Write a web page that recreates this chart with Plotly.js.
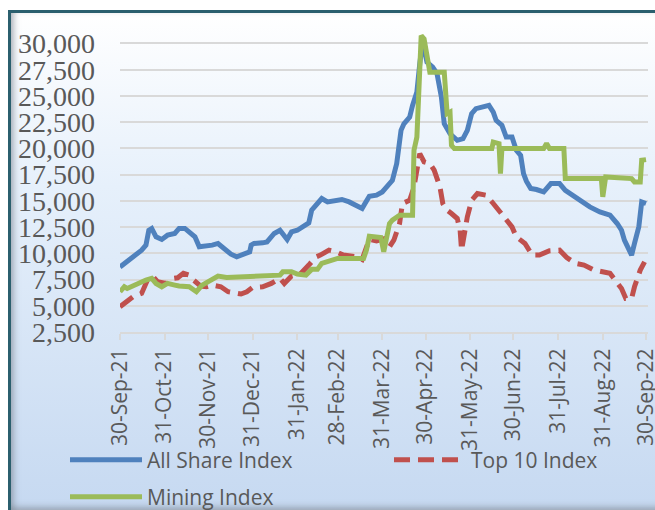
<!DOCTYPE html>
<html>
<head>
<meta charset="utf-8">
<script src="https://cdn.plot.ly/plotly-3.0.1.min.js"></script>
<style>
  html, body { margin: 0; padding: 0; background: #ffffff; }
  #frame {
    position: absolute; left: 8px; top: 10px; width: 650px; height: 497px;
    border-left: 3px solid #2b5f6e; border-top: 3px solid #2b5f6e;
    background: linear-gradient(to bottom, #ffffff 0%, #e6f0fb 35%, #c6d9f1 100%);
    box-shadow: inset 6px 0 6px -3px rgba(120,130,140,0.55), inset 0 -6px 6px -3px rgba(120,130,140,0.55), inset -4px 0 4px -2px rgba(255,255,255,0.9);
  }
  #chart { position: absolute; left: 0; top: 0; width: 655px; height: 510px; overflow: hidden; }
</style>
</head>
<body>
<div id="frame"></div>
<div id="chart"></div>
<script>
// All Share Index
const allShareDates = ['2021-09-30','2021-10-05','2021-10-09','2021-10-15','2021-10-18','2021-10-20','2021-10-22','2021-10-25','2021-10-29','2021-11-02','2021-11-07','2021-11-10','2021-11-14','2021-11-17','2021-11-21','2021-11-24','2021-11-29','2021-12-03','2021-12-07','2021-12-11','2021-12-16','2021-12-20','2021-12-25','2021-12-29','2021-12-30','2022-01-01','2022-01-07','2022-01-10','2022-01-15','2022-01-19','2022-01-24','2022-01-27','2022-01-31','2022-02-05','2022-02-08','2022-02-10','2022-02-14','2022-02-17','2022-02-21','2022-02-26','2022-03-03','2022-03-08','2022-03-13','2022-03-17','2022-03-19','2022-03-22','2022-03-27','2022-03-31','2022-04-02','2022-04-07','2022-04-10','2022-04-13','2022-04-15','2022-04-19','2022-04-21','2022-04-24','2022-04-26','2022-04-28','2022-05-01','2022-05-05','2022-05-08','2022-05-11','2022-05-13','2022-05-17','2022-05-22','2022-05-26','2022-05-29','2022-06-01','2022-06-04','2022-06-08','2022-06-13','2022-06-16','2022-06-18','2022-06-22','2022-06-25','2022-06-29','2022-07-02','2022-07-05','2022-07-07','2022-07-09','2022-07-12','2022-07-16','2022-07-21','2022-07-26','2022-08-01','2022-08-05','2022-08-10','2022-08-16','2022-08-22','2022-08-29','2022-09-05','2022-09-10','2022-09-13','2022-09-15','2022-09-18','2022-09-20','2022-09-22','2022-09-25','2022-09-27','2022-09-30'];
const allShareValues = [8700,9190,9660,10300,10780,12200,12370,11570,11320,11730,11890,12370,12370,12040,11570,10620,10680,10780,10940,10460,9920,9660,9990,10140,10780,10940,11000,11090,11890,12200,11320,12040,12200,12590,12900,14110,14750,15220,14900,15060,15130,14900,14590,14270,14750,15440,15540,15850,16170,16960,18550,21720,22350,22990,24100,25370,28070,30200,28230,27750,27120,24900,22350,21400,20770,20930,21720,23310,23790,23940,24100,23460,22670,22200,21080,21080,19820,19340,17600,16880,16170,16080,15850,16650,16650,16010,15540,14900,14420,13950,13630,12840,12200,11250,10300,9830,10940,12520,14900,14750];

// Top 10 Index
const top10Dates = ['2021-09-30','2021-10-03','2021-10-09','2021-10-15','2021-10-19','2021-10-23','2021-10-26','2021-11-01','2021-11-06','2021-11-09','2021-11-13','2021-11-17','2021-11-20','2021-11-25','2021-11-29','2021-12-03','2021-12-09','2021-12-14','2021-12-17','2021-12-23','2021-12-27','2021-12-31','2022-01-07','2022-01-13','2022-01-19','2022-01-22','2022-01-27','2022-02-02','2022-02-08','2022-02-13','2022-02-16','2022-02-22','2022-02-27','2022-03-04','2022-03-13','2022-03-17','2022-03-22','2022-03-27','2022-04-02','2022-04-05','2022-04-08','2022-04-12','2022-04-14','2022-04-19','2022-04-22','2022-04-24','2022-04-26','2022-04-29','2022-05-03','2022-05-06','2022-05-10','2022-05-12','2022-05-15','2022-05-18','2022-05-22','2022-05-24','2022-05-25','2022-05-29','2022-06-01','2022-06-05','2022-06-11','2022-06-16','2022-06-21','2022-06-25','2022-06-29','2022-07-02','2022-07-08','2022-07-13','2022-07-18','2022-07-25','2022-08-01','2022-08-06','2022-08-12','2022-08-18','2022-08-25','2022-09-05','2022-09-08','2022-09-13','2022-09-16','2022-09-20','2022-09-22','2022-09-26','2022-09-29'];
const top10Values = [4910,5230,5860,6180,7450,7770,7290,7130,7610,7670,8090,7920,7450,6880,6810,6970,6810,6340,6240,6120,6340,6750,6810,7130,7610,7130,7830,8020,8880,9660,9830,10300,10140,9830,9660,9410,11320,11190,11410,10620,11250,12840,14750,15060,16330,17920,19500,18710,18550,17920,16330,14750,14110,13790,13320,12200,10300,13470,15060,15700,15540,14750,13950,13160,12520,11570,10940,9830,9830,10240,10300,9600,9040,8880,8400,8090,7610,6650,5700,5700,6810,8400,9190];

// Mining Index
const miningDates = ['2021-09-30','2021-10-03','2021-10-05','2021-10-12','2021-10-18','2021-10-22','2021-10-25','2021-10-29','2021-11-02','2021-11-07','2021-11-10','2021-11-17','2021-11-22','2021-11-26','2021-12-02','2021-12-07','2021-12-13','2021-12-22','2022-01-01','2022-01-10','2022-01-19','2022-01-21','2022-01-27','2022-01-31','2022-02-06','2022-02-10','2022-02-14','2022-02-17','2022-02-22','2022-02-28','2022-03-18','2022-03-20','2022-03-22','2022-03-27','2022-03-30','2022-04-01','2022-04-03','2022-04-05','2022-04-07','2022-04-12','2022-04-21','2022-04-22','2022-04-24','2022-04-27','2022-04-29','2022-05-01','2022-05-03','2022-05-13','2022-05-15','2022-05-17','2022-05-18','2022-05-20','2022-06-15','2022-06-16','2022-06-20','2022-06-21','2022-06-22','2022-07-21','2022-07-23','2022-07-25','2022-08-04','2022-08-05','2022-08-30','2022-08-31','2022-09-02','2022-09-20','2022-09-22','2022-09-26','2022-09-27','2022-09-30'];
const miningValues = [6340,6810,6650,7130,7450,7610,7130,6810,7130,6970,6880,6810,6340,6970,7450,7830,7700,7770,7830,7830,7920,8240,8240,8020,7920,8470,8470,9040,9290,9510,9510,10300,11630,11510,11510,10140,11570,12840,13160,13630,13630,19820,21080,30760,30440,28700,27270,27270,23310,23460,20300,19980,19980,20610,20460,17600,19980,19980,20460,19980,19980,17120,17120,15380,17280,17120,16800,16800,18870,18930];

// Axis ticks
const xTickDates = ['2021-09-30','2021-10-31','2021-11-30','2021-12-31','2022-01-31','2022-02-28','2022-03-31','2022-04-30','2022-05-31','2022-06-30','2022-07-31','2022-08-31','2022-09-30'];
const xTickLabels = ['30-Sep-21','31-Oct-21','30-Nov-21','31-Dec-21','31-Jan-22','28-Feb-22','31-Mar-22','30-Apr-22','31-May-22','30-Jun-22','31-Jul-22','31-Aug-22','30-Sep-22'];
const yTickVals = [2500,5000,7500,10000,12500,15000,17500,20000,22500,25000,27500,30000];
const yTickLabels = ['2,500','5,000','7,500','10,000','12,500','15,000','17,500','20,000','22,500','25,000','27,500','30,000'];

const textColor = '#595959';
const legFont = {family: 'Open Sans, Liberation Sans, sans-serif', size: 21, color: textColor};

const traces = [
  {x: allShareDates, y: allShareValues, name: 'All Share Index', type: 'scatter', mode: 'lines',
   line: {color: '#4f81bd', width: 5}, legend: 'legend'},
  {x: top10Dates, y: top10Values, name: 'Top 10 Index', type: 'scatter', mode: 'lines',
   line: {color: '#c0504d', width: 5, dash: '16px,8px'}, legend: 'legend2'},
  {x: miningDates, y: miningValues, name: 'Mining Index', type: 'scatter', mode: 'lines',
   line: {color: '#9bbb59', width: 5}, legend: 'legend3'}
];

const legBase = {orientation: 'v', bgcolor: 'rgba(0,0,0,0)', font: legFont, itemwidth: 72,
  xref: 'container', yref: 'container', xanchor: 'left', yanchor: 'middle', itemclick: false};

const layout = {
  width: 655, height: 510,
  margin: {l: 120, r: 7, t: 33, b: 178, autoexpand: false},
  paper_bgcolor: 'rgba(0,0,0,0)',
  plot_bgcolor: 'rgba(0,0,0,0)',
  xaxis: {
    type: 'date',
    range: ['2021-09-30', '2022-10-01 09:00'],
    tickmode: 'array', tickvals: xTickDates, ticktext: xTickLabels,
    tickangle: -90,
    tickfont: {family: 'Open Sans, Liberation Sans, sans-serif', size: 21, color: textColor},
    ticklabeloverflow: 'allow',
    showgrid: false, zeroline: false,
    showline: true, linecolor: '#d9d9d9', linewidth: 2,
    ticks: 'outside', ticklen: 6, tickcolor: '#d9d9d9', tickwidth: 2,
    automargin: false,
    fixedrange: true
  },
  yaxis: {
    range: [2500, 31000],
    tickmode: 'array', tickvals: yTickVals, ticktext: yTickLabels,
    tickfont: {family: 'Liberation Serif, Times New Roman, serif', size: 28, color: textColor},
    showgrid: true, gridcolor: '#d9d9d9', gridwidth: 2,
    zeroline: false, showline: false, ticks: '',
    ticklabelstandoff: 24,
    automargin: false,
    fixedrange: true
  },
  showlegend: true,
  legend: Object.assign({}, legBase, {x: 65/655, y: 1 - 460/510}),
  legend2: Object.assign({}, legBase, {x: 389/655, y: 1 - 460/510}),
  legend3: Object.assign({}, legBase, {x: 65/655, y: 1 - 497/510})
};

Plotly.newPlot('chart', traces, layout, {displayModeBar: false, staticPlot: true});
</script>
</body>
</html>
